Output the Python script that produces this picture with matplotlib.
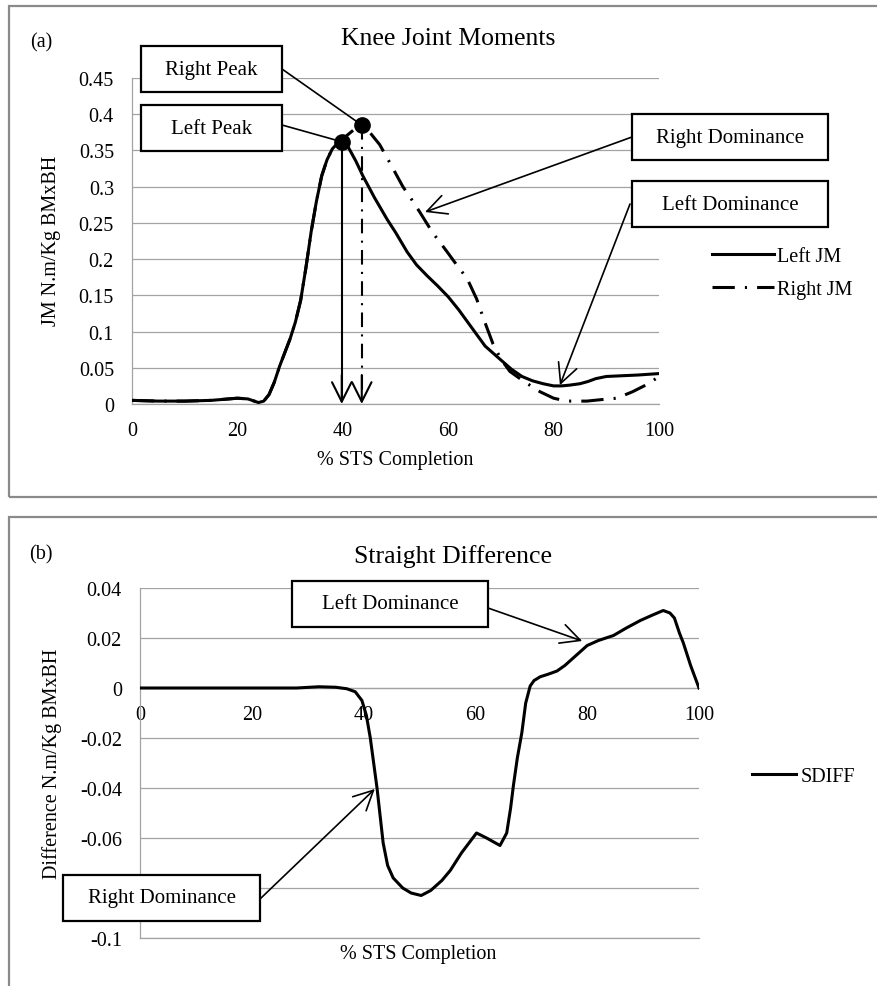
import numpy as np
import matplotlib
matplotlib.use('Agg')
import matplotlib.pyplot as plt
from matplotlib.patches import Rectangle

# ---------------- data ----------------
left_x = [0, 5, 10, 15, 20, 22, 24, 25, 26, 27, 28, 29, 30, 31, 32, 33, 34, 35, 36, 37, 38, 39, 39.8,
          41, 42.5, 43.8, 46, 48.4, 50, 52.2, 54, 56, 58, 60, 62, 64.7, 67, 69.8, 72, 74, 76, 78,
          80, 81.5, 83, 85, 86.5, 88, 90, 93, 96, 100]
left_jm = [0.005, 0.004, 0.004, 0.005, 0.008, 0.007, 0.002, 0.004, 0.013, 0.03, 0.052, 0.071, 0.09,
           0.113, 0.143, 0.188, 0.238, 0.28, 0.315, 0.337, 0.352, 0.36, 0.362,
           0.355, 0.335, 0.315, 0.285, 0.255, 0.237, 0.21, 0.192, 0.177, 0.163, 0.148, 0.13, 0.103,
           0.08, 0.062, 0.048, 0.038, 0.032, 0.028, 0.025, 0.025, 0.026, 0.028, 0.031, 0.035, 0.038,
           0.039, 0.040, 0.042]

right_x = [0, 5, 10, 15, 20, 22, 24, 25, 26, 27, 28, 29, 30, 31, 32, 33, 34, 35, 36, 37, 38, 39,
           41, 42.5, 43.6, 45, 47, 49, 51.4, 53, 54.6, 57, 59.8, 61, 63.6, 65.4, 67, 68.5, 70, 71.7,
           74.2, 77.4, 80, 82.5, 86.3, 89, 92, 95, 98, 100]
right_jm = [0.005, 0.004, 0.004, 0.005, 0.008, 0.007, 0.002, 0.004, 0.013, 0.03, 0.052, 0.071, 0.09,
            0.113, 0.143, 0.188, 0.238, 0.28, 0.315, 0.337, 0.352, 0.36,
            0.372, 0.381, 0.385, 0.376, 0.358, 0.332, 0.300, 0.283, 0.265, 0.237, 0.210, 0.198,
            0.173, 0.145, 0.112, 0.083, 0.062, 0.045, 0.032, 0.017, 0.008, 0.004, 0.004, 0.006,
            0.008, 0.017, 0.028, 0.038]

sdiff_x = [0, 10, 20, 28, 32, 35, 37, 38.5, 39.7, 40.5, 41.2, 42.4, 43.5, 44.3, 45.3, 47, 48.5, 50.3,
           52, 54, 55.5, 57.5, 60.2, 62, 64.4, 65.6, 66.3, 66.8, 67.5, 68.3, 69, 69.8, 70.5, 71.6,
           73, 74.6, 76, 78, 80, 82, 84.7, 87, 89.5, 91.5, 93.6, 94.8, 95.6, 96.5, 97.2, 98.5, 100]
sdiff = [0, 0, 0, 0, 0.0005, 0.0003, -0.0003, -0.0015, -0.005, -0.011, -0.02, -0.040, -0.062, -0.071,
         -0.076, -0.080, -0.082, -0.083, -0.081, -0.077, -0.073, -0.066, -0.058, -0.060, -0.063,
         -0.058, -0.048, -0.039, -0.028, -0.018, -0.006, 0.0008, 0.003, 0.0045, 0.0055, 0.0068,
         0.009, 0.013, 0.017, 0.019, 0.021, 0.024, 0.027, 0.029, 0.031, 0.030, 0.028, 0.022, 0.018,
         0.009, 0.0]

x_ticks = [0, 20, 40, 60, 80, 100]
ya_ticks = [0, 0.05, 0.1, 0.15, 0.2, 0.25, 0.3, 0.35, 0.4, 0.45]
ya_labels = ['0', '0.05', '0.1', '0.15', '0.2', '0.25', '0.3', '0.35', '0.4', '0.45']
yb_ticks = [-0.1, -0.08, -0.06, -0.04, -0.02, 0, 0.02, 0.04]
yb_labels = ['-0.1', '', '-0.06', '-0.04', '-0.02', '0', '0.02', '0.04']

# ---------------- figure ----------------
plt.rcParams['font.family'] = ['Liberation Serif', 'DejaVu Serif']
W, H = 878, 987
fig = plt.figure(figsize=(8.78, 9.87), dpi=100)


def fx(x):
    return x / W


def fy(y):
    return 1 - y / H


GRID = '#a3a3a3'
TICK_FS = 14.5
LAB_FS = 14.5
ANN_FS = 15
TITLE_FS = 18.5
DASHDOT = (0, (7.3, 3.3, 0.7, 3.3))

# panel borders
for y0, y1 in [(7, 498), (518, 995)]:
    fig.patches.append(Rectangle((fx(9), fy(y1)), fx(890) - fx(9), fy(y0) - fy(y1),
                                 transform=fig.transFigure, fill=False, ec='#8a8a8a', lw=1.6,
                                 zorder=0))


def style_axes(ax):
    for s in ['top', 'right']:
        ax.spines[s].set_visible(False)
    for s in ['left', 'bottom']:
        ax.spines[s].set_color(GRID)
        ax.spines[s].set_linewidth(0.9)
    ax.yaxis.grid(True, color=GRID, lw=0.9)
    ax.set_axisbelow(True)
    ax.tick_params(length=0, labelsize=TICK_FS, colors='black')
    ax.tick_params(axis='x', pad=12)
    ax.tick_params(axis='y', pad=13)


def box(x0, y0, x1, y1, text):
    fig.patches.append(Rectangle((fx(x0), fy(y1)), fx(x1) - fx(x0), fy(y0) - fy(y1),
                                 transform=fig.transFigure, fc='white', ec='black', lw=1.6,
                                 zorder=5))
    fig.text(fx((x0 + x1) / 2), fy((y0 + y1) / 2), text, ha='center', va='center',
             fontsize=ANN_FS, zorder=6)


def callout(ax, xy, start, arrow=True):
    style = '->,head_length=0.7,head_width=0.35' if arrow else '-'
    ax.annotate('', xy=xy, xycoords='data', xytext=(fx(start[0]), fy(start[1])),
                textcoords='figure fraction', annotation_clip=False,
                arrowprops=dict(arrowstyle=style, color='black', lw=1.2, shrinkA=0, shrinkB=0,
                                mutation_scale=20))


# ---------------- panel (a) ----------------
ax1 = fig.add_axes([fx(132), fy(405), fx(659) - fx(132), fy(79) - fy(405)])
style_axes(ax1)
ax1.set_xlim(0, 100)
ax1.set_ylim(0, 0.45)
ax1.set_xticks(x_ticks)
ax1.set_yticks(ya_ticks)
ax1.set_yticklabels(ya_labels)

l1, = ax1.plot(left_x, left_jm, color='black', lw=2.2, label='Left JM', zorder=3)
l2, = ax1.plot(right_x, right_jm, color='black', lw=2.2, linestyle=DASHDOT,
               dash_capstyle='butt', label='Right JM', zorder=3)

il = int(np.argmax(left_jm))
ir = int(np.argmax(right_jm))
pl = (left_x[il], left_jm[il])
pr = (right_x[ir], right_jm[ir])
ax1.plot([pl[0]], [pl[1]], 'o', color='black', ms=11, zorder=4)
ax1.plot([pr[0]], [pr[1]], 'o', color='black', ms=11, zorder=4)

# vertical arrows from peaks
ax1.plot([pl[0], pl[0]], [pl[1], 0.01], color='black', lw=1.5, zorder=3)
ax1.plot([pr[0], pr[0]], [pr[1], 0.01], color='black', lw=1.5, linestyle=(0, (7, 3.5, 1, 3.5)),
         zorder=3)
for p in (pl, pr):
    ax1.annotate('', xy=(p[0], 0), xytext=(p[0], 0.04), annotation_clip=False,
                 arrowprops=dict(arrowstyle='->,head_length=0.7,head_width=0.35', color='black',
                                 lw=1.5, shrinkA=0, shrinkB=0, mutation_scale=20))

box(141, 47, 282, 93, 'Right Peak')
box(141, 106, 282, 152, 'Left Peak')
box(632, 115, 828, 161, 'Right Dominance')
box(632, 182, 828, 228, 'Left Dominance')
callout(ax1, pr, (282, 70), arrow=False)
callout(ax1, pl, (282, 126), arrow=False)
callout(ax1, (55.6, 0.265), (632, 138))
callout(ax1, (81.2, 0.026), (630, 205))

fig.text(fx(41), fy(43), '(a)', ha='center', va='center', fontsize=LAB_FS)
fig.text(fx(448), fy(39), 'Knee Joint Moments', ha='center', va='center', fontsize=TITLE_FS)
fig.text(fx(395), fy(461), '% STS Completion', ha='center', va='center', fontsize=LAB_FS)
fig.text(fx(52), fy(241), 'JM N.m/Kg BMxBH', ha='center', va='center', fontsize=LAB_FS,
         rotation=90)

ax1.legend(handles=[l1, l2], loc='upper left', bbox_to_anchor=(fx(712), fy(248)),
           bbox_transform=fig.transFigure, frameon=False, fontsize=LAB_FS,
           handlelength=3.1, handletextpad=0.15, labelspacing=0.7, borderpad=0,
           borderaxespad=0)

# ---------------- panel (b) ----------------
ax2 = fig.add_axes([fx(140), fy(939), fx(699) - fx(140), fy(589) - fy(939)])
style_axes(ax2)
ax2.set_xlim(0, 100)
ax2.set_ylim(-0.1, 0.04)
ax2.set_xticks(x_ticks)
ax2.set_yticks(yb_ticks)
ax2.set_yticklabels(yb_labels)
ax2.spines['bottom'].set_position(('data', 0))
ax2.axhline(yb_ticks[0], color=GRID, lw=0.9, clip_on=False, zorder=0.5)

s1, = ax2.plot(sdiff_x, sdiff, color='black', lw=2.2, label='SDIFF', zorder=3)

box(292, 582, 488, 628, 'Left Dominance')
box(63, 876, 260, 922, 'Right Dominance')
callout(ax2, (79.1, 0.0188), (488, 609))
callout(ax2, (42.0, -0.0404), (260, 900))

fig.text(fx(41), fy(555), '(b)', ha='center', va='center', fontsize=LAB_FS)
fig.text(fx(453), fy(557), 'Straight Difference', ha='center', va='center', fontsize=TITLE_FS)
fig.text(fx(418), fy(955), '% STS Completion', ha='center', va='center', fontsize=LAB_FS)
fig.text(fx(52), fy(764), 'Difference N.m/Kg BMxBH', ha='center', va='center',
         fontsize=LAB_FS, rotation=90)

ax2.legend(handles=[s1], loc='upper left', bbox_to_anchor=(fx(752), fy(768)),
           bbox_transform=fig.transFigure, frameon=False, fontsize=LAB_FS,
           handlelength=2.2, handletextpad=0.2, borderpad=0, borderaxespad=0)

fig.savefig('out.png', dpi=100, facecolor='white')
